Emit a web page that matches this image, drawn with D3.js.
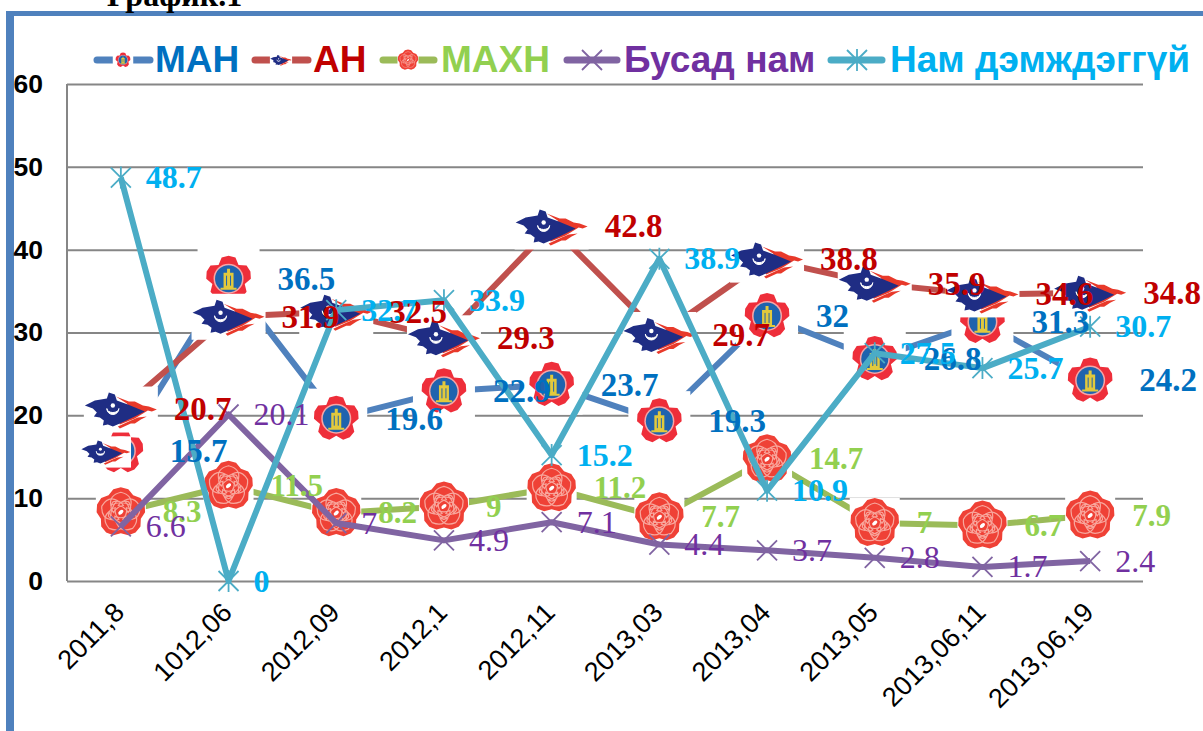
<!DOCTYPE html>
<html>
<head>
<meta charset="utf-8">
<script src="https://cdn.jsdelivr.net/npm/d3@7"></script>
<style>
  body { margin: 0; background: #fff; overflow: hidden; }
  text { font-family: "Liberation Sans", Arial, sans-serif; }
  .value { font-family: "Liberation Serif", "Times New Roman", serif; }
</style>
</head>
<body>
<div id="container"></div>
<script>
/* CONSTANTS AND GLOBALS */
const width = 1203;
const height = 731;

/* DATA */
const categories = ["2011,8", "1012,06", "2012,09", "2012,1", "2012,11", "2013,03", "2013,04", "2013,05", "2013,06,11", "2013,06,19"];
const yTicks = [0, 10, 20, 30, 40, 50, 60];
const man = [15.7, 36.5, 19.6, 22.9, 23.7, 19.3, 32, 26.8, 31.3, 24.2];
const an = [20.7, 31.9, 32.5, 29.3, 42.8, 29.7, 38.8, 35.9, 34.6, 34.8];
const mahn = [8.3, 11.5, 8.2, 9, 11.2, 7.7, 14.7, 7, 6.7, 7.9];
const busad = [6.6, 20.1, 7, 4.9, 7.1, 4.4, 3.7, 2.8, 1.7, 2.4];
const unaffiliated = [48.7, 0, 32.7, 33.9, 15.2, 38.9, 10.9, 27.5, 25.7, 30.7];

const series = [
  { name: "МАН", values: man, line: "#4F81BD", label: "#0070C0", marker: "emblem", boxW: 31, boxH: 30, dx: 49, weight: "bold", size: 33, legend: [94, 153, 155, 123], legendScale: 0.33 },
  { name: "АН", values: an, line: "#C0504D", label: "#C00000", marker: "map", boxW: 37, boxH: 23, dx: 53, weight: "bold", size: 33, legend: [252, 311, 313, 281], legendScale: 0.3 },
  { name: "МАХН", values: mahn, line: "#9BBB59", label: "#92D050", marker: "rose", boxW: 25, boxH: 25, dx: 42, weight: "bold", size: 31, legend: [380, 437, 441, 408], legendScale: 0.42 },
  { name: "Бусад нам", values: busad, line: "#8064A2", label: "#7030A0", marker: "cross", dx: 25, weight: "normal", size: 32, legend: [564, 620, 624, 592], legendScale: 1 },
  { name: "Нам дэмждэггүй", values: unaffiliated, line: "#4BACC6", label: "#00B0F0", marker: "star", dx: 25, weight: "bold", size: 32, legend: [828, 885, 890, 857], legendScale: 1 }
];

/* SCALES */
const xScale = d3.scaleBand()
  .domain(categories)
  .range([67, 1144]);

const yScale = d3.scaleLinear()
  .domain([0, 60])
  .range([581, 84]);

const xPos = d => xScale(d) + xScale.bandwidth() / 2;

/* HTML ELEMENTS */
const svg = d3.select("#container")
  .append("svg")
  .attr("width", width)
  .attr("height", height)
  .style("display", "block");

// marker glyphs
const defs = svg.append("defs");

// lobed outline used by both party flowers
const lobed = (lobes, r, dent) => {
  const pts = d3.range(lobes * 4).map(i => {
    const a = -Math.PI / 2 + i / (lobes * 4) * Math.PI * 2;
    const k = [r, r * 0.97, dent, r * 0.97][i % 4];
    return [Math.cos(a) * k, Math.sin(a) * k];
  });
  return d3.line().curve(d3.curveLinearClosed)(pts);
};

const emblem = defs.append("g").attr("id", "emblem");
emblem.append("path").attr("d", lobed(5, 23, 17)).attr("fill", "#EE2E3A");
emblem.append("circle").attr("r", 15).attr("fill", "#F6A6A6");
emblem.append("circle").attr("r", 13.5).attr("fill", "#1F63AE");
emblem.append("path").attr("d", "M-1.5,-10L1.5,-10L1.5,-6L5,-6L5,9L8,9L8,11L-8,11L-8,9L-5,9L-5,-6L-1.5,-6Z").attr("fill", "#E2C93C");
emblem.append("path").attr("d", "M-2,-3L-2,7M2,-3L2,7").attr("stroke", "#1F63AE").attr("stroke-width", 1);

const map = defs.append("g").attr("id", "map");
map.append("path")
  .attr("d", "M-5,-13L8,-8L14,-8L22,-4L28,-3L36,0L31,2L27,1L14,9L4,13L-1,15L-3,10L10,2L6,-6Z")
  .attr("fill", "#E8392A");
map.append("path")
  .attr("d", "M-36,-4L-26,-9L-14,-11L-12,-17L-6,-15L-4,-9L7,-5L24,2L14,7L-1,14L-8,17L-13,15L-18,16L-17,11L-21,8L-27,7L-24,3L-28,-1Z")
  .attr("fill", "#1F2D84");
map.append("path").attr("d", "M-1,19L10,14L14,14L20,10L26,7L17,8L10,11L-3,17Z").attr("fill", "#E8392A");
map.append("circle").attr("cx", -8).attr("cy", -4).attr("r", 2.2).attr("fill", "#fff");
map.append("path").attr("d", "M-14,-1A6,6 0 0 0 -2,-1A6,4 0 0 1 -14,-1Z").attr("fill", "#fff").attr("stroke", "#fff");

const rose = defs.append("g").attr("id", "rose");
rose.append("path").attr("d", lobed(5, 25, 21)).attr("fill", "#EF4136");
d3.range(5).forEach(i => {
  rose.append("path").attr("transform", `rotate(${i * 72})`)
    .attr("d", "M-10,-7Q-12,-17 0,-20Q12,-17 10,-7Q0,-12 -10,-7Z")
    .attr("fill", "none").attr("stroke", "#F8A79D").attr("stroke-width", 1.2);
  rose.append("path").attr("transform", `rotate(${i * 72 + 36})`)
    .attr("d", "M-6,-4Q-7,-11 0,-13Q7,-11 6,-4Q0,-7 -6,-4Z")
    .attr("fill", "none").attr("stroke", "#F8A79D").attr("stroke-width", 1.2);
});
rose.append("ellipse").attr("rx", 3).attr("ry", 1.8).attr("transform", "rotate(-40)").attr("fill", "#fff");

// page frame
svg.append("rect").attr("x", 6).attr("y", 11).attr("width", width - 6).attr("height", 5).attr("fill", "#4F81BD");
svg.append("rect").attr("x", 6).attr("y", 11).attr("width", 8).attr("height", height - 11).attr("fill", "#4F81BD");

// clipped caption above the frame
svg.append("text")
  .attr("class", "value")
  .attr("x", 107)
  .attr("y", 6)
  .attr("font-size", 32)
  .attr("font-weight", "bold")
  .attr("fill", "#000")
  .text("График.1");

// y-axis with gridlines
const yAxis = d3.axisLeft(yScale).tickValues(yTicks).tickSize(-(1143 - 67)).tickPadding(24);
const yG = svg.append("g")
  .attr("class", "y-axis")
  .attr("transform", "translate(67,0)")
  .call(yAxis);
yG.selectAll("line").attr("stroke", "#868686").attr("stroke-width", 2);
yG.select(".domain").attr("d", "M0,84V581").attr("stroke", "#868686").attr("stroke-width", 2);
yG.selectAll("text")
  .attr("font-family", "'Liberation Sans', Arial, sans-serif")
  .attr("font-size", 26.5)
  .attr("font-weight", "bold")
  .attr("fill", "#000");

// x-axis
const xAxis = d3.axisBottom(xScale).tickSize(0).tickPadding(0);
const xG = svg.append("g")
  .attr("class", "x-axis")
  .attr("transform", "translate(0,581)")
  .call(xAxis);
xG.select(".domain").remove();
xG.selectAll("text")
  .attr("font-family", "'Liberation Sans', Arial, sans-serif")
  .attr("font-size", 27)
  .attr("fill", "#000")
  .attr("text-anchor", "end")
  .attr("dy", 0)
  .attr("y", 0)
  .attr("transform", "translate(5,33) rotate(-45)");

// one marker, white picture box first
function drawMarker(g, s, px, py, k) {
  if (s.boxW) {
    g.append("rect")
      .attr("x", px - s.boxW * k).attr("y", py - s.boxH * k)
      .attr("width", s.boxW * 2 * k).attr("height", s.boxH * 2 * k)
      .attr("fill", "#fff");
    g.append("use").attr("href", "#" + s.marker)
      .attr("transform", `translate(${px},${py}) scale(${k})`);
  } else {
    const r = 10;
    let d = `M${px - r},${py - r}L${px + r},${py + r}M${px - r},${py + r}L${px + r},${py - r}`;
    if (s.marker === "star") d += `M${px},${py - r - 1}V${py + r + 1}`;
    g.append("path").attr("d", d).attr("fill", "none").attr("stroke", s.line).attr("stroke-width", 1.8);
  }
}

// lines and markers, one series over the other
const line = d3.line().x((d, i) => xPos(categories[i])).y(d => yScale(d));
series.forEach(s => {
  const g = svg.append("g").attr("class", "series");
  g.append("path")
    .attr("d", line(s.values))
    .attr("fill", "none")
    .attr("stroke", s.line)
    .attr("stroke-width", 6)
    .attr("stroke-linejoin", "round");
  s.values.forEach((v, i) => drawMarker(g, s, xPos(categories[i]), yScale(v), 1));
  // the small map pasted over the first МАН emblem
  if (s.name === "АН") drawMarker(g, s, xPos(categories[0]) - 15, yScale(man[0]) + 1, 0.68);
});

// data labels
series.forEach(s => {
  svg.append("g").selectAll("text")
    .data(s.values)
    .join("text")
    .attr("class", "value")
    .attr("x", (d, i) => xPos(categories[i]) + s.dx)
    .attr("y", d => yScale(d))
    .attr("dy", "0.33em")
    .attr("font-size", s.size)
    .attr("font-weight", s.weight)
    .attr("fill", s.label)
    .text(d => d);
});

// legend
series.forEach(s => {
  const [x0, x1, tx, mx] = s.legend;
  const g = svg.append("g").attr("class", "legend");
  g.append("line")
    .attr("x1", x0 + 3).attr("x2", x1 - 3).attr("y1", 60).attr("y2", 60)
    .attr("stroke", s.line).attr("stroke-width", 7).attr("stroke-linecap", "round");
  drawMarker(g, s, mx, 60, s.legendScale);
  g.append("text")
    .attr("x", tx).attr("y", 72)
    .attr("font-size", 37)
    .attr("font-weight", "bold")
    .attr("fill", s.label)
    .text(s.name);
});
</script>
</body>
</html>
